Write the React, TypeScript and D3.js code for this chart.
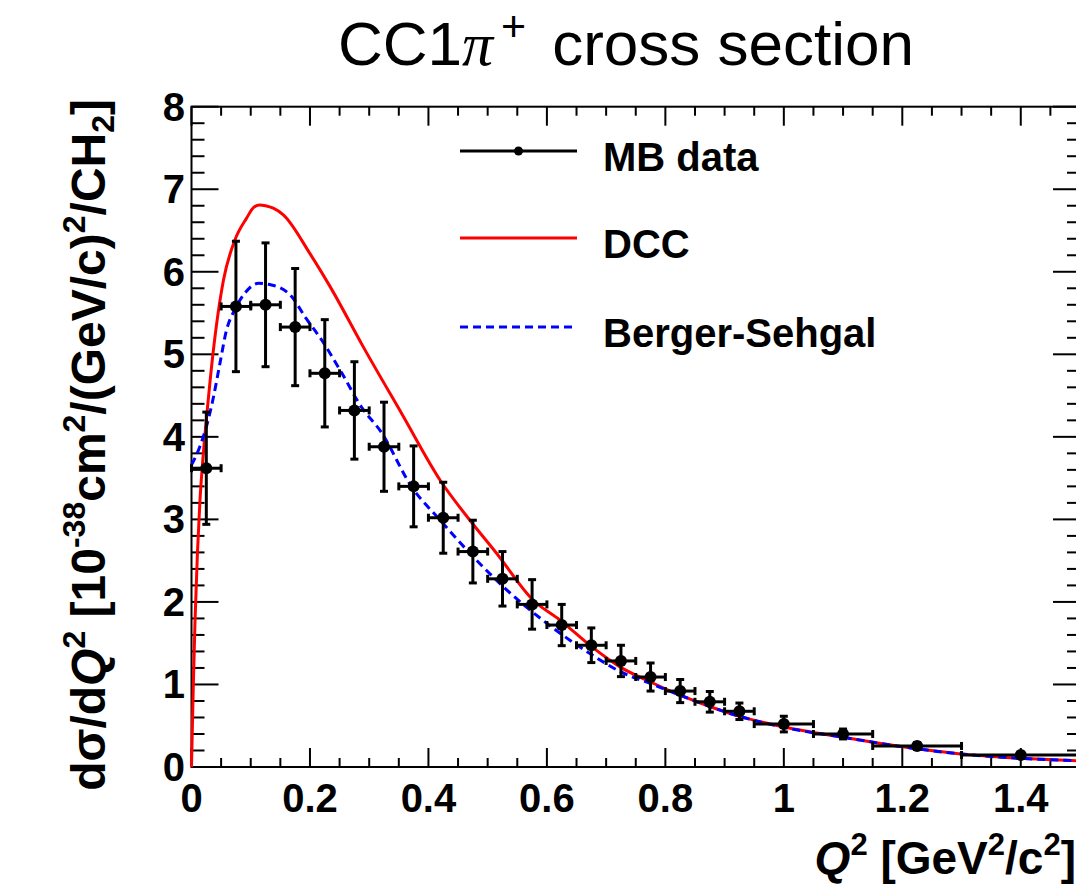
import React from "react";
import * as d3 from "d3";

// ---------------- data ----------------
const binEdges = [0, 0.05, 0.1, 0.15, 0.2, 0.25, 0.3, 0.35, 0.4, 0.45, 0.5, 0.55, 0.6, 0.65, 0.7, 0.75, 0.8, 0.85, 0.9, 0.95, 1.05, 1.15, 1.3, 1.5];
const mbValues = [3.62, 5.58, 5.6, 5.33, 4.77, 4.32, 3.88, 3.4, 3.02, 2.61, 2.28, 1.97, 1.72, 1.475, 1.285, 1.09, 0.92, 0.79, 0.675, 0.52, 0.4, 0.255, 0.145];
const mbErrors = [0.68, 0.79, 0.75, 0.71, 0.65, 0.59, 0.54, 0.49, 0.43, 0.38, 0.33, 0.3, 0.25, 0.21, 0.19, 0.17, 0.14, 0.125, 0.1, 0.095, 0.06, 0.04, 0.035];

const dccQ2 = [0, 0.003, 0.006, 0.01, 0.014, 0.02, 0.025, 0.036, 0.054, 0.073, 0.093, 0.105, 0.115, 0.125, 0.138, 0.155, 0.2, 0.234, 0.29, 0.355, 0.422, 0.47, 0.515, 0.577, 0.622, 0.676, 0.724, 0.775, 0.825, 0.876, 0.927, 1.0, 1.1, 1.225, 1.31, 1.4, 1.5];
const dccXsec = [0, 0.97, 1.78, 2.59, 3.19, 3.8, 4.2, 4.99, 5.9, 6.38, 6.65, 6.78, 6.81, 6.8, 6.77, 6.69, 6.22, 5.82, 5.09, 4.28, 3.45, 2.99, 2.59, 2.02, 1.78, 1.455, 1.21, 1.03, 0.87, 0.73, 0.61, 0.485, 0.36, 0.22, 0.15, 0.105, 0.075];

const bsQ2 = [0, 0.014, 0.028, 0.037, 0.048, 0.059, 0.073, 0.09, 0.113, 0.135, 0.169, 0.192, 0.22, 0.254, 0.287, 0.32, 0.372, 0.42, 0.47, 0.527, 0.6, 0.678, 0.724, 0.775, 0.825, 0.876, 0.927, 1.0, 1.1, 1.225, 1.31, 1.4, 1.5];
const bsXsec = [3.66, 3.88, 4.2, 4.48, 4.89, 5.29, 5.54, 5.74, 5.86, 5.84, 5.7, 5.45, 5.17, 4.77, 4.36, 4.06, 3.39, 2.99, 2.59, 2.18, 1.74, 1.35, 1.155, 1.01, 0.87, 0.73, 0.61, 0.48, 0.36, 0.22, 0.15, 0.105, 0.075];

const xTickLabels = ["0", "0.2", "0.4", "0.6", "0.8", "1", "1.2", "1.4"];
const yTickLabels = ["0", "1", "2", "3", "4", "5", "6", "7", "8"];
const legendLabels = ["MB data", "DCC", "Berger-Sehgal"];

// ---------------- layout ----------------
const W = 1076;
const H = 886;
const FONT = "'Liberation Sans', Arial, Helvetica, sans-serif";

export default function App() {
  const x = d3.scaleLinear().domain([0, 1.5]).range([191.5, 1080]);
  const y = d3.scaleLinear().domain([0, 8]).range([767, 106.7]);
  const [x0, x1] = x.range();
  const [y0, y1] = y.range();

  const xMinor = d3.range(0, 31).map((i) => i * 0.05);
  const yMinor = d3.range(0, 41).map((i) => i * 0.2);

  const line = d3
    .line<[number, number]>()
    .x((d) => x(d[0]))
    .y((d) => y(d[1]))
    .curve(d3.curveMonotoneX);

  const dccPath = line(dccQ2.map((q, i) => [q, dccXsec[i]]) as [number, number][]) || "";
  const bsPath = line(bsQ2.map((q, i) => [q, bsXsec[i]]) as [number, number][]) || "";

  const points = mbValues.map((v, i) => ({
    lo: binEdges[i],
    hi: binEdges[i + 1],
    c: (binEdges[i] + binEdges[i + 1]) / 2,
    v,
    e: mbErrors[i],
  }));

  const cap = 4;
  const legY = [151, 238, 327];
  const legX0 = 460;
  const legX1 = 577;

  const axFs = 46;
  const supFs = 31;
  const yFs = 48;
  const ySup = 32;

  return (
    <svg
      width={W}
      height={H}
      viewBox={`0 0 ${W} ${H}`}
      style={{ position: "absolute", left: 0, top: 0, background: "#fff" }}
      fontFamily={FONT}
    >
      <rect x={0} y={0} width={W} height={H} fill="#fff" />

      {/* Title */}
      <text x={338} y={65} fontSize={62} fill="#000">
        CC1
        <tspan fontFamily="'Liberation Serif', 'Times New Roman', serif" fontStyle="italic">
          π
        </tspan>
        <tspan fontSize={43} dy={-24} dx={8}>+</tspan>
        <tspan dy={24} dx={26}>cross section</tspan>
      </text>

      {/* Frame */}
      <rect x={x0} y={y1} width={x1 - x0} height={y0 - y1} fill="none" stroke="#000" strokeWidth={2} />

      {/* X ticks (bottom & top) */}
      {xMinor.map((v, i) => {
        const len = i % 4 === 0 ? 19 : 9;
        const px = x(v);
        return (
          <g key={"xt" + i} stroke="#000" strokeWidth={2}>
            <line x1={px} x2={px} y1={y0} y2={y0 - len} />
            <line x1={px} x2={px} y1={y1} y2={y1 + len} />
          </g>
        );
      })}
      {/* Y ticks (left & right) */}
      {yMinor.map((v, i) => {
        const len = i % 5 === 0 ? 27 : 13;
        const py = y(v);
        return (
          <g key={"yt" + i} stroke="#000" strokeWidth={2}>
            <line x1={x0} x2={x0 + len} y1={py} y2={py} />
            <line x1={x1} x2={x1 - len} y1={py} y2={py} />
          </g>
        );
      })}

      {/* Tick labels */}
      {xTickLabels.map((t, i) => (
        <text key={"xl" + i} x={x(i * 0.2)} y={812} textAnchor="middle" fontSize={40} fontWeight="bold">
          {t}
        </text>
      ))}
      {yTickLabels.map((t, i) => (
        <text key={"yl" + i} x={185} y={y(i) + 14} textAnchor="end" fontSize={40} fontWeight="bold">
          {t}
        </text>
      ))}

      {/* Axis titles */}
      <text x={1076} y={874} textAnchor="end" fontSize={axFs} fontWeight="bold">
        <tspan fontStyle="italic">Q</tspan>
        <tspan fontSize={supFs} dy={-19}>2</tspan>
        <tspan dy={19}> [GeV</tspan>
        <tspan fontSize={supFs} dy={-19}>2</tspan>
        <tspan dy={19}>/c</tspan>
        <tspan fontSize={supFs} dy={-19}>2</tspan>
        <tspan dy={19}>]</tspan>
      </text>
      <text
        transform={`translate(105, 99) rotate(-90)`}
        textAnchor="end"
        fontSize={yFs}
        fontWeight="bold"
      >
        d
        <tspan>σ</tspan>
        /d
        <tspan fontStyle="italic">Q</tspan>
        <tspan fontSize={ySup} dy={-20}>2</tspan>
        <tspan dy={20}> [10</tspan>
        <tspan fontSize={ySup} dy={-20}>-38</tspan>
        <tspan dy={20}>cm</tspan>
        <tspan fontSize={ySup} dy={-20}>2</tspan>
        <tspan dy={20}>/(GeV/c)</tspan>
        <tspan fontSize={ySup} dy={-20}>2</tspan>
        <tspan dy={20}>/CH</tspan>
        <tspan fontSize={ySup} dy={9}>2</tspan>
        <tspan dy={-9}>]</tspan>
      </text>

      {/* Curves */}
      <path d={dccPath} fill="none" stroke="#ff0000" strokeWidth={3} />
      <path d={bsPath} fill="none" stroke="#0000ff" strokeWidth={3} strokeDasharray="8 5" />

      {/* Data points */}
      {points.map((p, i) => (
        <g key={"pt" + i} stroke="#000" strokeWidth={3}>
          <line x1={x(p.lo)} x2={x(p.hi)} y1={y(p.v)} y2={y(p.v)} />
          <line x1={x(p.lo)} x2={x(p.lo)} y1={y(p.v) - cap} y2={y(p.v) + cap} />
          <line x1={x(p.hi)} x2={x(p.hi)} y1={y(p.v) - cap} y2={y(p.v) + cap} />
          <line x1={x(p.c)} x2={x(p.c)} y1={y(p.v - p.e)} y2={y(p.v + p.e)} />
          <line x1={x(p.c) - cap} x2={x(p.c) + cap} y1={y(p.v + p.e)} y2={y(p.v + p.e)} />
          <line x1={x(p.c) - cap} x2={x(p.c) + cap} y1={y(p.v - p.e)} y2={y(p.v - p.e)} />
          <circle cx={x(p.c)} cy={y(p.v)} r={6} fill="#000" stroke="none" />
        </g>
      ))}

      {/* Legend */}
      <line x1={legX0} x2={legX1} y1={legY[0]} y2={legY[0]} stroke="#000" strokeWidth={3} />
      <circle cx={(legX0 + legX1) / 2} cy={legY[0]} r={4.5} fill="#000" />
      <line x1={legX0} x2={legX1} y1={legY[1]} y2={legY[1]} stroke="#ff0000" strokeWidth={3} />
      <line x1={legX0} x2={legX1} y1={legY[2]} y2={legY[2]} stroke="#0000ff" strokeWidth={3} strokeDasharray="8 5" />
      {legendLabels.map((t, i) => (
        <text key={"lg" + i} x={603} y={legY[i] + 20} fontSize={40} fontWeight="bold">
          {t}
        </text>
      ))}
    </svg>
  );
}
